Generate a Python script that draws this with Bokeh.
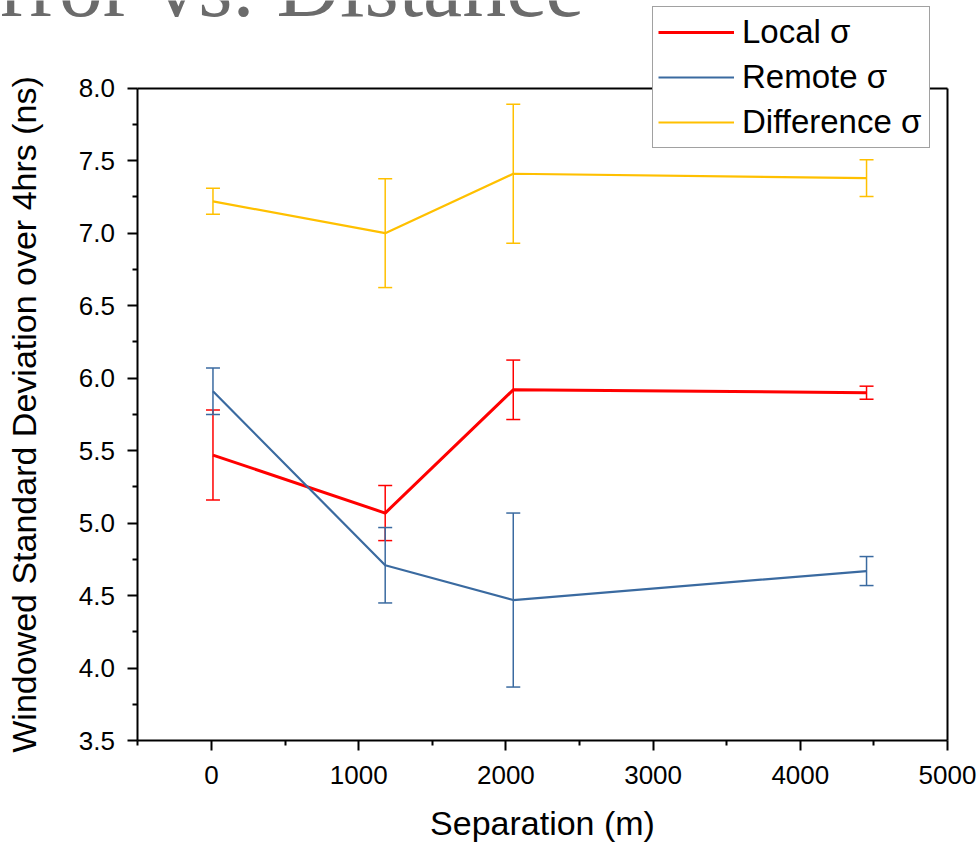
from bokeh.plotting import figure
from bokeh.models import (ColumnDataSource, Range1d, FixedTicker, NumeralTickFormatter,
                          Whisker, TeeHead, Legend, LegendItem, Label, LinearAxis)
from bokeh.embed import file_html
from bokeh.resources import INLINE

# ---- data ----
separation = [10, 1180, 2050, 4450]
local_sigma = [5.47, 5.07, 5.92, 5.90]
local_err = [0.31, 0.19, 0.205, 0.045]
remote_sigma = [5.91, 4.71, 4.47, 4.67]
remote_err = [0.16, 0.26, 0.60, 0.10]
diff_sigma = [7.22, 7.00, 7.41, 7.38]
diff_err = [0.09, 0.375, 0.48, 0.127]

x_ticks = [0, 1000, 2000, 3000, 4000, 5000]
x_minor = [-500, 500, 1500, 2500, 3500, 4500]
y_ticks = [3.5, 4.0, 4.5, 5.0, 5.5, 6.0, 6.5, 7.0, 7.5, 8.0]
y_minor = [3.75, 4.25, 4.75, 5.25, 5.75, 6.25, 6.75, 7.25, 7.75]
x_lo, x_hi = -500, 5000
y_lo, y_hi = 3.5, 8.0

series = [
    ("Local σ", local_sigma, local_err, "#FF0000", 3.0),
    ("Remote σ", remote_sigma, remote_err, "#3A6AA0", 2.2),
    ("Difference σ", diff_sigma, diff_err, "#FFC000", 2.2),
]

FONT = "Liberation Sans"

# ---- layout: the drawing area covers the whole canvas; the visible box
# (axes + border) sits at these pixel positions ----
W, H = 980, 842
BOX_L, BOX_R, BOX_T, BOX_B = 137.4, 947.0, 87.7, 740.2
sx = (BOX_R - BOX_L) / (x_hi - x_lo)
sy = (BOX_B - BOX_T) / (y_hi - y_lo)
x_range = Range1d(x_lo - BOX_L / sx, x_hi + (W - BOX_R) / sx)
y_range = Range1d(y_lo - (H - BOX_B) / sy, y_hi + BOX_T / sy)

p = figure(width=W, height=H, output_backend="svg", toolbar_location=None,
           x_range=x_range, y_range=y_range, min_border=0,
           x_axis_location=None, y_axis_location=None)
p.xgrid.visible = False
p.ygrid.visible = False
p.outline_line_color = None
p.background_fill_color = "white"
p.border_fill_color = "white"


def style_axis(ax, ticks=True):
    ax.axis_line_color = "black"
    ax.axis_line_width = 2
    ax.major_tick_line_color = "black"
    ax.major_tick_line_width = 2
    ax.minor_tick_line_color = "black"
    ax.minor_tick_line_width = 2
    ax.major_tick_in = 0
    ax.minor_tick_in = 0
    ax.major_tick_out = 10 if ticks else 0
    ax.minor_tick_out = 5 if ticks else 0
    ax.major_label_text_font = FONT
    ax.major_label_text_font_size = "26px"
    ax.major_label_text_color = "black"
    ax.axis_label_text_font = FONT
    ax.axis_label_text_font_size = "34px"
    ax.axis_label_text_font_style = "normal"
    ax.axis_label_text_color = "black"


xaxis = LinearAxis(fixed_location=y_lo, bounds=(x_lo, x_hi),
                   ticker=FixedTicker(ticks=x_ticks, minor_ticks=x_minor),
                   axis_label="Separation (m)")
style_axis(xaxis)
xaxis.major_label_standoff = 15
xaxis.axis_label_standoff = 17
p.add_layout(xaxis, "below")

yaxis = LinearAxis(fixed_location=x_lo, bounds=(y_lo, y_hi),
                   ticker=FixedTicker(ticks=y_ticks, minor_ticks=y_minor),
                   formatter=NumeralTickFormatter(format="0.0"),
                   axis_label="Windowed Standard Deviation over 4hrs (ns)")
style_axis(yaxis)
yaxis.major_label_standoff = 13
yaxis.axis_label_standoff = 32
p.add_layout(yaxis, "left")

# plain border lines on top and right
top_border = LinearAxis(fixed_location=y_hi, bounds=(x_lo, x_hi),
                        ticker=FixedTicker(ticks=[], minor_ticks=[]))
style_axis(top_border, ticks=False)
top_border.major_label_text_font_size = "0px"
p.add_layout(top_border, "above")

right_border = LinearAxis(fixed_location=x_hi, bounds=(y_lo, y_hi),
                          ticker=FixedTicker(ticks=[], minor_ticks=[]))
style_axis(right_border, ticks=False)
right_border.major_label_text_font_size = "0px"
p.add_layout(right_border, "right")

items = []
for name, vals, errs, color, lw in series:
    src = ColumnDataSource(dict(
        x=separation, y=vals,
        upper=[v + e for v, e in zip(vals, errs)],
        lower=[v - e for v, e in zip(vals, errs)],
    ))
    r = p.line("x", "y", source=src, line_color=color, line_width=lw)
    w = Whisker(source=src, base="x", upper="upper", lower="lower",
                line_color=color, line_width=1.5,
                upper_head=TeeHead(size=14, line_color=color, line_width=1.5),
                lower_head=TeeHead(size=14, line_color=color, line_width=1.5))
    p.add_layout(w)
    items.append(LegendItem(label=name, renderers=[r]))

legend = Legend(items=items, location=(652, 694), glyph_width=76, glyph_height=40,
                label_height=40, label_width=182, spacing=5, padding=5, margin=0,
                label_standoff=8, label_text_font=FONT, label_text_font_size="33px",
                label_text_color="black",
                border_line_color="#444444", border_line_width=1.5,
                background_fill_color="white", background_fill_alpha=1.0)
p.add_layout(legend)

title = Label(x=-54, y=H + 14, x_units="screen", y_units="screen",
              text="Error vs. Distance", text_font="Liberation Serif",
              text_font_size="88px", text_color="#6B6B6B",
              text_baseline="alphabetic", text_align="left")
p.add_layout(title)

open("out.html", "w").write(file_html(p, INLINE))
